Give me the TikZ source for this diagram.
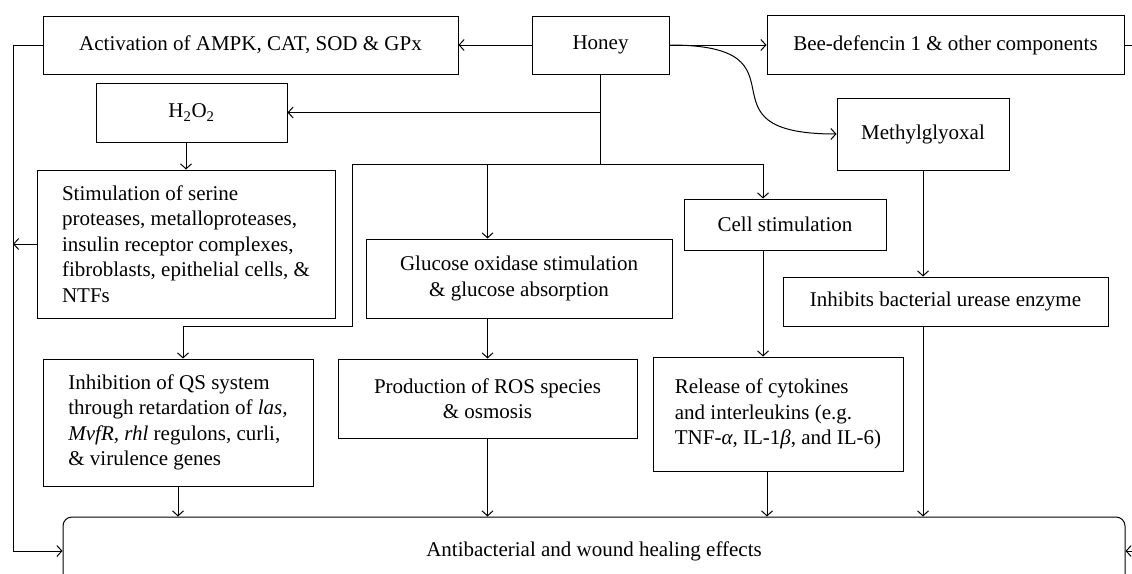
\documentclass[tikz,border=0pt]{standalone}
\usepackage{fontspec}
\setmainfont{Liberation Serif}
\usetikzlibrary{arrows.meta}
\begin{document}
\begin{tikzpicture}[x=1pt,y=-1pt,line width=1pt,
    every node/.style={font=\fontsize{21}{25.5}\selectfont},
    box/.style={draw,inner sep=0pt},
    arr/.style={-{Straight Barb[length=5pt,width=11pt]}}]
  \useasboundingbox (0,0) rectangle (1132,573);
  % boxes
  \node[box,minimum width=415,minimum height=58] (act) at (250.5,45) {Activation of AMPK, CAT, SOD \& GPx};
  \node[box,minimum width=137,minimum height=58] (honey) at (600.5,45) {Honey};
  \node[box,minimum width=357,minimum height=59] (bee) at (945.5,45) {Bee-defencin 1 \& other components};
  \node[box,minimum width=191,minimum height=59] (h2o2) at (191.5,112.5) {H\textsubscript{2}O\textsubscript{2}};
  \node[box,minimum width=172,minimum height=72] (methyl) at (923,134) {Methylglyoxal};
  \node[box,minimum width=298,minimum height=148,align=left] (stim) at (186,244)
    {Stimulation of serine\\proteases, metalloproteases,\\insulin receptor complexes,\\fibroblasts, epithelial cells, \&\\NTFs};
  \node[box,minimum width=306,minimum height=79,align=center] (gluc) at (519,278.5)
    {Glucose oxidase stimulation\\\& glucose absorption};
  \node[box,minimum width=202,minimum height=51] (cell) at (785,224.5) {Cell stimulation};
  \node[box,minimum width=325,minimum height=49] (urease) at (945.5,301.5) {Inhibits bacterial urease enzyme};
  \node[box,minimum width=270,minimum height=127,align=left] (qs) at (178,422.5)
    {Inhibition of QS system\\through retardation of \textit{las,}\\\textit{MvfR, rhl} regulons, curli,\\\& virulence genes};
  \node[box,minimum width=299,minimum height=79,align=center] (ros) at (487.5,398.5)
    {Production of ROS species\\\& osmosis};
  \node[box,minimum width=250,minimum height=114,align=left] (rel) at (778,414)
    {Release of cytokines\\and interleukins (e.g.\\TNF-{\itshape α}, IL-1{\itshape β}, and IL-6)};
  \node[box,rounded corners=9pt,minimum width=1062,minimum height=68] (final) at (594,551)
    {Antibacterial and wound healing effects};
  % junctions
  \coordinate (fork) at (600.5,164);
  \coordinate (lft) at (13,45);
  \coordinate (rgt) at (1150,45);
  % connectors
  \draw[arr] (honey.west) -- (act.east);
  \draw[arr] (honey.east) -- (bee.west);
  \draw[arr] (honey.east) to[out=0,in=180,looseness=2] (methyl.west);
  \draw[arr] (honey.south) |- (h2o2.east);
  \draw (honey.south) -- (fork);
  \draw[arr] (fork) -| (352,326) -| ([xshift=5]qs.north);
  \draw[arr] (fork -| ros.north) -- (ros.north |- gluc.north);
  \draw[arr] (fork) -| ([xshift=-22]cell.north);
  \draw[arr] (h2o2.south -| stim.north) -- (stim.north);
  \draw[arr] (ros.north |- gluc.south) -- (ros.north);
  \draw[arr] ([xshift=-22]cell.south) -- ([xshift=-22]cell.south |- rel.north);
  \draw[arr] (methyl.south) -- (methyl.south |- urease.north);
  \draw[arr] (qs.south) -- (qs.south |- final.north);
  \draw[arr] (ros.south) -- (ros.south |- final.north);
  \draw[arr] ([xshift=-11]rel.south) -- ([xshift=-11]rel.south |- final.north);
  \draw[arr] (methyl.south |- urease.south) -- (methyl.south |- final.north);
  \draw[arr] (act.west) -- (lft) |- (final.west);
  \draw[arr] (stim.west) -- (stim.west -| lft);
  \draw[arr] (bee.east) -- (rgt) |- (final.east);
\end{tikzpicture}
\end{document}
